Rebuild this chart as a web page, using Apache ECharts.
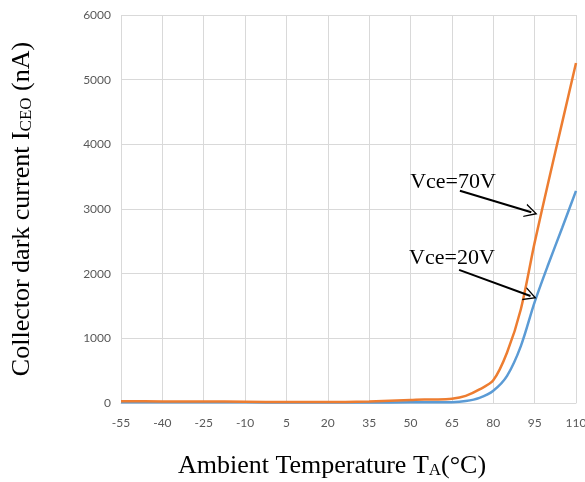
<!DOCTYPE html>
<html>
<head>
<meta charset="utf-8">
<script src="https://cdn.jsdelivr.net/npm/echarts@6/dist/echarts.min.js"></script>
<style>
  html, body { margin: 0; padding: 0; background: #fff; }
  #main { width: 585px; height: 482px; }
</style>
</head>
<body>
<div id="main"></div>
<script>
// temperature (°C) and dark current (nA)
const temps70 = [-55, -40, -25, -10, 5, 20, 35, 50, 55, 60, 65, 70, 75, 80, 85, 90, 95, 100, 105, 110];
const vce70 = [28, 24, 24, 20, 15, 15, 25, 45, 55, 55, 65, 110, 210, 350, 780, 1450, 2480, 3420, 4340, 5257];
const temps20 = [-55, -40, -25, -10, 5, 20, 35, 50, 55, 60, 65, 70, 75, 80, 85, 90, 95, 100, 105, 110];
const vce20 = [10, 10, 10, 10, 8, 8, 8, 10, 10, 10, 12, 30, 80, 190, 420, 880, 1560, 2150, 2710, 3280];

// annotations: label position and arrow start/end in data space
const labels = ['Vce=70V', 'Vce=20V'];
const labelAt = [[65.4, 3420], [65.0, 2245]];
const arrowFrom = [[67.9, 3282], [67.6, 2059]];
const arrowTo = [[93.8, 2949], [93.5, 1655]];

const chart = echarts.init(document.getElementById('main'));

const chevron = 'path://M5,0 L10,11 L8.9,11 L5,2.4 L1.1,11 L0,11 Z';

const subStyle = { fontFamily: 'Liberation Serif', fontSize: 17, color: '#000', verticalAlign: 'bottom', padding: [9, 0, 0, 0] };

chart.setOption({
  animation: false,
  grid: { left: 121, right: 9, top: 15, bottom: 79, outerBoundsMode: 'none', containLabel: false },
  xAxis: {
    type: 'value',
    min: -55,
    max: 110,
    interval: 15,
    name: 'Ambient Temperature T{sub|A}(°C)',
    nameLocation: 'middle',
    nameGap: 50,
    nameTextStyle: {
      fontFamily: 'Liberation Serif',
      fontSize: 26,
      color: '#000',
      padding: [0, 33, 0, 0],
      rich: { sub: subStyle }
    },
    axisLine: { lineStyle: { color: '#d9d9d9', width: 1 } },
    axisTick: { show: false },
    axisLabel: { color: '#595959', fontFamily: 'Lato', fontSize: 12, margin: 14 },
    splitLine: { show: true, lineStyle: { color: '#d9d9d9', width: 1 } }
  },
  yAxis: {
    type: 'value',
    min: 0,
    max: 6000,
    interval: 1000,
    name: 'Collector dark current I{sub|CEO} (nA)',
    nameLocation: 'middle',
    nameGap: 86,
    nameTextStyle: {
      fontFamily: 'Liberation Serif',
      fontSize: 26,
      color: '#000',
      rich: { sub: subStyle }
    },
    axisLine: { show: false },
    axisTick: { show: false },
    axisLabel: { color: '#595959', fontFamily: 'Lato', fontSize: 12, margin: 10, formatter: v => String(v) },
    splitLine: { show: true, lineStyle: { color: '#d9d9d9', width: 1 } }
  },
  series: [
    {
      name: 'Vce=20V',
      type: 'line',
      smooth: 0.3,
      showSymbol: false,
      data: temps20.map((t, i) => [t, vce20[i]]),
      lineStyle: { color: '#5b9bd5', width: 2.5 },
      itemStyle: { color: '#5b9bd5' },
      z: 2
    },
    {
      name: 'Vce=70V',
      type: 'line',
      smooth: 0.3,
      showSymbol: false,
      data: temps70.map((t, i) => [t, vce70[i]]),
      lineStyle: { color: '#ed7d31', width: 2.5 },
      itemStyle: { color: '#ed7d31' },
      z: 3,
      markPoint: {
        symbol: 'circle',
        symbolSize: 0,
        silent: true,
        label: {
          show: true,
          position: 'inside',
          color: '#000',
          fontFamily: 'Liberation Serif',
          fontSize: 22,
          formatter: p => p.name
        },
        data: labels.map((l, i) => ({ name: l, coord: labelAt[i] }))
      },
      markLine: {
        silent: true,
        symbol: ['none', chevron],
        symbolSize: [14, 13],
        lineStyle: { color: '#000', width: 2, type: 'solid' },
        label: { show: false },
        data: arrowFrom.map((f, i) => [{ coord: f }, { coord: arrowTo[i] }])
      }
    }
  ]
});
</script>
</body>
</html>
